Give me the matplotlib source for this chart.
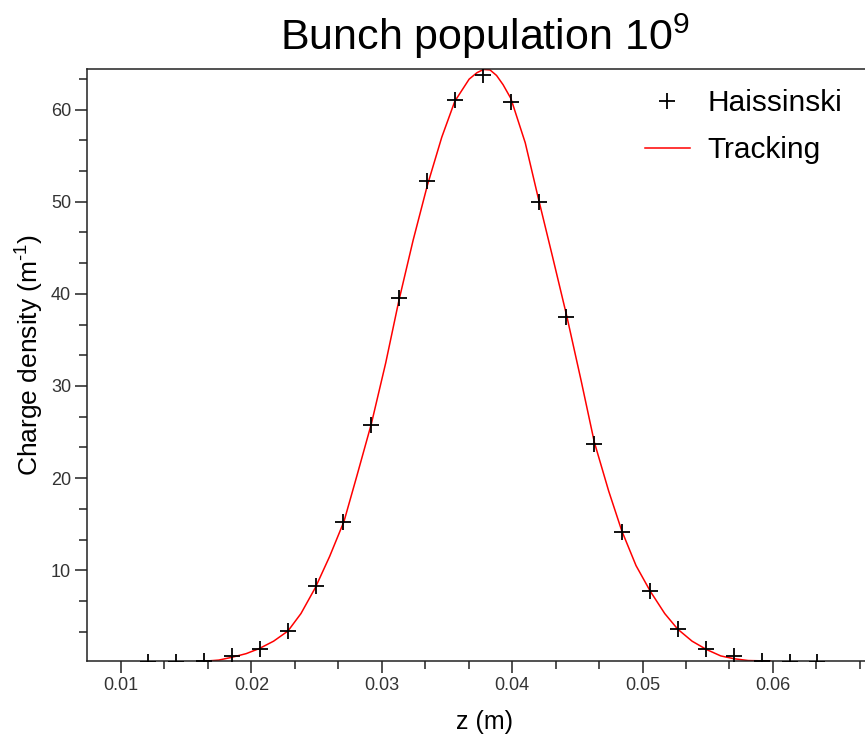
import matplotlib
matplotlib.use("Agg")
import matplotlib.pyplot as plt
from matplotlib.ticker import MultipleLocator, AutoMinorLocator

plt.rcParams['font.family'] = ['Liberation Sans', 'DejaVu Sans']
plt.rcParams['mathtext.default'] = 'regular'

# Haissinski solution (markers)
haiss_z = [0.01209, 0.01423, 0.01637, 0.01851, 0.02064, 0.02278, 0.02492, 0.02706,
           0.02920, 0.03134, 0.03347, 0.03561, 0.03775, 0.03989, 0.04203, 0.04416,
           0.04630, 0.04844, 0.05058, 0.05272, 0.05486, 0.05699, 0.05913, 0.06127, 0.06341]
haiss_rho = [0.0, 0.0, 0.2, 0.7, 1.4, 3.4, 8.3, 15.2, 25.8, 39.6, 52.2, 61.0, 63.7,
             60.8, 50.0, 37.5, 23.7, 14.2, 7.7, 3.6, 1.4, 0.7, 0.2, 0.0, 0.0]

# Tracking result (red line)
track_z = [0.0166, 0.0175, 0.0185, 0.0196, 0.0206, 0.0217, 0.0228, 0.0238, 0.0249,
           0.0260, 0.0271, 0.0281, 0.0292, 0.0303, 0.0313, 0.0324, 0.0335, 0.0346,
           0.0356, 0.0367, 0.0373, 0.0378, 0.0383, 0.0388, 0.0393, 0.0399, 0.0410,
           0.0420, 0.0431, 0.0442, 0.0453, 0.0463, 0.0474, 0.0484, 0.0495, 0.0506,
           0.0517, 0.0527, 0.0538, 0.0549, 0.0560, 0.0570, 0.0581, 0.0598]
track_rho = [0.15, 0.25, 0.55, 0.95, 1.5, 2.3, 3.4, 5.3, 8.1, 11.5, 15.3, 20.3, 25.9,
             32.5, 39.2, 45.8, 51.8, 57.0, 60.9, 63.3, 64.0, 64.35, 64.3, 63.7, 62.7,
             61.2, 56.4, 50.4, 44.0, 37.5, 30.5, 23.9, 18.6, 14.3, 10.5, 7.7, 5.3,
             3.6, 2.3, 1.4, 0.7, 0.4, 0.2, 0.15]

W, H = 865, 737
fig = plt.figure(figsize=(W / 100, H / 100), dpi=100)
ax = fig.add_axes([87 / W, (H - 661) / H, (W - 87) / W, (661 - 69) / H])

ax.plot(track_z, track_rho, color='red', lw=1.1, label='Tracking', zorder=2)
ax.plot(haiss_z, haiss_rho, ls='none', marker='+', ms=12, mew=1.3, color='black',
        label='Haissinski', zorder=3)

ax.set_xlim(0.00739, 0.06706)
ax.set_ylim(0.15, 64.4)

ax.xaxis.set_major_locator(MultipleLocator(0.01))
ax.xaxis.set_minor_locator(AutoMinorLocator(3))
ax.yaxis.set_major_locator(MultipleLocator(10))
ax.yaxis.set_minor_locator(AutoMinorLocator(3))
ax.xaxis.set_major_formatter(plt.FuncFormatter(lambda v, p: f"{v:.2f}"))
ax.yaxis.set_major_formatter(plt.FuncFormatter(lambda v, p: f"{v:.0f}"))

ax.tick_params(which='major', length=8.5, width=1.1, color='#222222',
               labelsize=13, labelcolor='#333333', pad=3)
ax.tick_params(which='minor', length=5.5, width=1.1, color='#222222')

for s in ['left', 'bottom', 'top']:
    ax.spines[s].set_linewidth(1.1)
    ax.spines[s].set_color('#222222')
ax.spines['right'].set_visible(False)

# legend
handles, labels = ax.get_legend_handles_labels()
ax.legend(handles[::-1], labels[::-1], loc='upper left',
          bbox_to_anchor=((645 - 87) / (W - 87), (661 - 89) / (661 - 69)),
          frameon=False, fontsize=21.5, borderpad=0, borderaxespad=0,
          handlelength=1.5, handletextpad=0.6, labelspacing=0.65)

fig.text(485 / W, 1 - 50 / H, 'Bunch population 10$^{9}$', ha='center',
         va='baseline', fontsize=31)
fig.text(485 / W, 1 - 722 / H, 'z (m)', ha='center', va='center', fontsize=18)
fig.text(30 / W, 1 - 355 / H, 'Charge density (m$^{\u2010 1}$)', ha='center', va='center',
         rotation=90, fontsize=19)

fig.savefig('out.png', dpi=100)
